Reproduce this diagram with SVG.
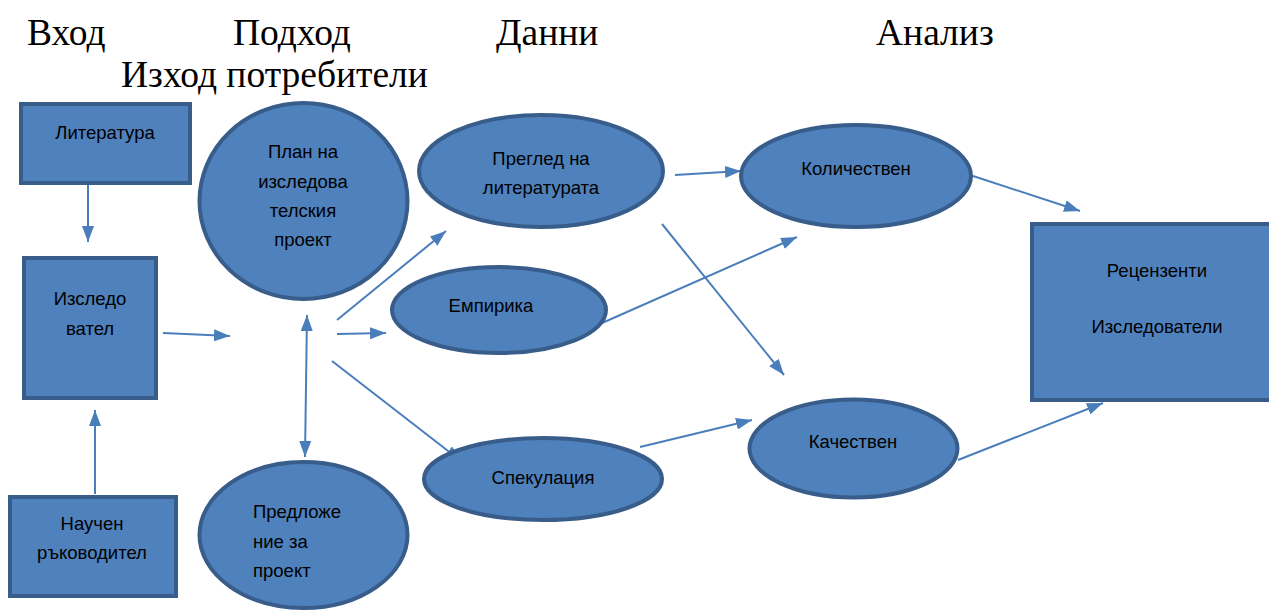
<svg xmlns="http://www.w3.org/2000/svg" width="1269" height="611" viewBox="0 0 1269 611">
<style>
.node{fill:#4f81bd;stroke:#385d8a;stroke-width:4}
.t{font-family:"Liberation Sans",Arial,sans-serif;font-size:18.5px;fill:#000;text-anchor:middle}
.tl{font-family:"Liberation Sans",Arial,sans-serif;font-size:18.5px;fill:#000}
.h{font-family:"Liberation Serif","Times New Roman",serif;font-size:37.5px;fill:#000}
.c{stroke:#4a7ebb;stroke-width:2;fill:none;marker-end:url(#ah)}
</style>
<defs>
<marker id="ah" viewBox="0 0 16 12" markerWidth="16" markerHeight="12" refX="16" refY="6" orient="auto-start-reverse" markerUnits="userSpaceOnUse">
<path d="M0,0 L16,6 L0,12 z" fill="#4a7ebb"/>
</marker>
</defs>
<rect width="1269" height="611" fill="#fff"/>
<g id="titles">
<text class="h" x="27" y="45">Вход</text>
<text class="h" x="233" y="45">Подход</text>
<text class="h" x="496" y="45">Данни</text>
<text class="h" x="876" y="45">Анализ</text>
<text class="h" x="121" y="87">Изход потребители</text>
</g>
<g id="connectors">
<line class="c" x1="88" y1="185" x2="88" y2="242"/>
<line class="c" x1="163" y1="333" x2="230" y2="336"/>
<line class="c" x1="95" y1="494" x2="95" y2="410"/>
<line class="c" x1="307" y1="315" x2="305" y2="457" style="marker-start:url(#ah)"/>
<line class="c" x1="337" y1="320" x2="446" y2="231"/>
<line class="c" x1="337" y1="334" x2="386" y2="333"/>
<line class="c" x1="332" y1="361" x2="461" y2="461"/>
<line class="c" x1="675" y1="175" x2="741" y2="171"/>
<line class="c" x1="662" y1="224" x2="784" y2="375"/>
<line class="c" x1="593" y1="327" x2="797" y2="237"/>
<line class="c" x1="640" y1="447" x2="752" y2="420"/>
<line class="c" x1="973" y1="176" x2="1080" y2="211"/>
<line class="c" x1="958" y1="460" x2="1103" y2="403"/>
</g>
<g id="literatura">
<rect class="node" x="21" y="104" width="169" height="79"/>
<text class="t" x="105" y="139">Литература</text>
</g>
<g id="izsledovatel">
<rect class="node" x="24" y="258" width="132" height="140"/>
<text class="t" x="90" y="305">Изследо</text>
<text class="t" x="90" y="335">вател</text>
</g>
<g id="nauchen">
<rect class="node" x="10" y="497" width="166" height="99"/>
<text class="t" x="92" y="530">Научен</text>
<text class="t" x="92" y="559">ръководител</text>
</g>
<g id="plan">
<ellipse class="node" cx="303.5" cy="201" rx="104" ry="98"/>
<text class="t" x="303" y="158">План на</text>
<text class="t" x="303" y="188">изследова</text>
<text class="t" x="303" y="217">телския</text>
<text class="t" x="303" y="246">проект</text>
</g>
<g id="predlozhenie">
<ellipse class="node" cx="303.5" cy="535" rx="104" ry="73"/>
<text class="tl" x="253" y="518">Предложе</text>
<text class="tl" x="253" y="548">ние за</text>
<text class="tl" x="253" y="577">проект</text>
</g>
<g id="pregled">
<ellipse class="node" cx="541" cy="171" rx="122" ry="56"/>
<text class="t" x="541" y="165">Преглед на</text>
<text class="t" x="541" y="194">литературата</text>
</g>
<g id="empirika">
<ellipse class="node" cx="499" cy="310" rx="107" ry="43"/>
<text class="t" x="491" y="312">Емпирика</text>
</g>
<g id="spekulacia">
<ellipse class="node" cx="543" cy="479" rx="119" ry="41"/>
<text class="t" x="543" y="484">Спекулация</text>
</g>
<g id="kolichestven">
<ellipse class="node" cx="856" cy="176" rx="115" ry="51"/>
<text class="t" x="856" y="175">Количествен</text>
</g>
<g id="kachestven">
<ellipse class="node" cx="853.5" cy="448.5" rx="104" ry="49"/>
<text class="t" x="853" y="448">Качествен</text>
</g>
<g id="recenzenti">
<rect class="node" x="1032" y="224" width="250" height="176"/>
<text class="t" x="1157" y="277">Рецензенти</text>
<text class="t" x="1157" y="333">Изследователи</text>
</g>
</svg>
